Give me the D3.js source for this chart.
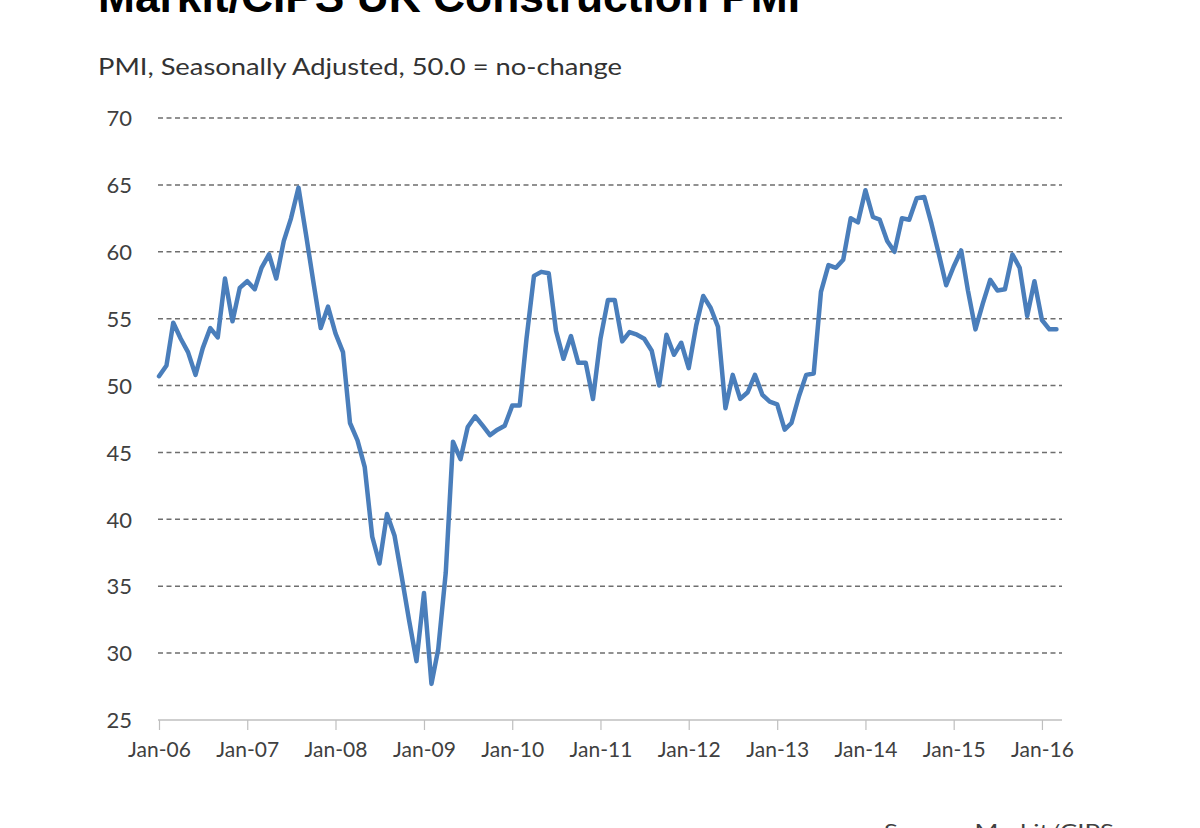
<!DOCTYPE html>
<html>
<head>
<meta charset="utf-8">
<script src="https://cdn.jsdelivr.net/npm/d3@7"></script>
<style>
  html, body { margin: 0; padding: 0; background: #ffffff; }
  svg { display: block; }
</style>
</head>
<body>
<svg id="chart" width="1200" height="828"></svg>
<script>
// ---- Data ----
const titleText = "Markit/CIPS UK Construction PMI";
const subtitleText = "PMI, Seasonally Adjusted, 50.0 = no-change";
const sourceText = "Source: Markit/CIPS.";
const startMonth = "2006-01";

const pmi2006 = [50.7, 51.5, 54.7, 53.5, 52.5, 50.8, 52.8, 54.3, 53.6, 58.0, 54.8, 57.3];
const pmi2007 = [57.8, 57.2, 58.8, 59.8, 58.0, 60.8, 62.5, 64.8, 61.3, 57.8, 54.3, 55.9];
const pmi2008 = [53.9, 52.5, 47.2, 45.9, 43.9, 38.7, 36.7, 40.4, 38.8, 35.7, 32.4, 29.4];
const pmi2009 = [34.5, 27.7, 30.3, 36.0, 45.8, 44.5, 46.9, 47.7, 47.0, 46.3, 46.7, 47.0];
const pmi2010 = [48.5, 48.5, 53.5, 58.2, 58.5, 58.4, 54.1, 52.0, 53.7, 51.7, 51.7, 49.0];
const pmi2011 = [53.5, 56.4, 56.4, 53.3, 54.0, 53.8, 53.5, 52.6, 50.0, 53.8, 52.3, 53.2];
const pmi2012 = [51.3, 54.5, 56.7, 55.8, 54.4, 48.3, 50.8, 49.0, 49.5, 50.8, 49.3, 48.8];
const pmi2013 = [48.6, 46.7, 47.2, 49.2, 50.8, 50.9, 57.0, 59.0, 58.8, 59.4, 62.5, 62.2];
const pmi2014 = [64.6, 62.6, 62.4, 60.8, 60.0, 62.5, 62.4, 64.0, 64.1, 62.1, 59.8, 57.5];
const pmi2015 = [58.9, 60.1, 57.1, 54.2, 56.1, 57.9, 57.1, 57.2, 59.8, 58.8, 55.2, 57.8];
const pmi2016 = [54.9, 54.2, 54.2];

const yTicks = [25, 30, 35, 40, 45, 50, 55, 60, 65, 70];
const xTickLabels = ["Jan-06","Jan-07","Jan-08","Jan-09","Jan-10","Jan-11","Jan-12","Jan-13","Jan-14","Jan-15","Jan-16"];

(function () {
// ---- Build series ----
const values = [].concat(pmi2006, pmi2007, pmi2008, pmi2009, pmi2010, pmi2011,
                         pmi2012, pmi2013, pmi2014, pmi2015, pmi2016);
const parseMonth = d3.timeParse("%Y-%m");
const start = parseMonth(startMonth);
const series = values.map((v, i) => ({ date: d3.timeMonth.offset(start, i), value: v }));
const tickDates = xTickLabels.map((_, i) => d3.timeYear.offset(start, i));

// ---- Layout ----
const svg = d3.select("#chart");
const plotLeft = 159, plotRight = 1062, plotTop = 118, plotBottom = 720;

const x = d3.scaleTime()
  .domain([start, new Date(2016, 2, 24)])
  .range([plotLeft, plotRight]);
const y = d3.scaleLinear().domain([25, 70]).range([plotBottom, plotTop]);

// Title (partly clipped at top, as in reference)
svg.append("text")
  .attr("x", 98).attr("y", 12)
  .attr("font-family", "'Liberation Sans', Arial, sans-serif")
  .attr("font-weight", "bold")
  .attr("font-size", 44)
  .attr("fill", "#000")
  .attr("textLength", 702).attr("lengthAdjust", "spacingAndGlyphs")
  .text(titleText);

// Subtitle
svg.append("text")
  .attr("x", 98).attr("y", 75)
  .attr("font-family", "Lato, 'Open Sans', sans-serif")
  .attr("font-size", 23)
  .attr("fill", "#333")
  .attr("textLength", 524).attr("lengthAdjust", "spacingAndGlyphs")
  .text(subtitleText);

// Gridlines
svg.append("g")
  .selectAll("line")
  .data(yTicks.filter(t => t > 25))
  .join("line")
  .attr("x1", plotLeft - 1).attr("x2", plotRight)
  .attr("y1", d => y(d)).attr("y2", d => y(d))
  .attr("stroke", "#6e6e6e")
  .attr("stroke-width", 1.5)
  .attr("stroke-dasharray", "5,3.5");

// Y axis labels
const yAxis = d3.axisLeft(y).tickValues(yTicks).tickSize(0).tickPadding(0).tickFormat(d3.format("d"));
const gy = svg.append("g").attr("transform", "translate(132,0)").call(yAxis);
gy.select(".domain").remove();
gy.selectAll("text")
  .attr("font-family", "Lato, 'Open Sans', sans-serif")
  .attr("font-size", 22)
  .attr("fill", "#404040")
  .attr("dy", "0.35em");

// X axis
const xAxis = d3.axisBottom(x)
  .tickValues(tickDates)
  .tickSize(10)
  .tickPadding(12)
  .tickFormat((d, i) => xTickLabels[i]);
const gx = svg.append("g").attr("transform", `translate(0,${plotBottom})`).call(xAxis);
gx.select(".domain")
  .attr("stroke", "#bfbfbf").attr("stroke-width", 1.5)
  .attr("d", `M${plotLeft - 1},0H${plotRight}`);
gx.selectAll(".tick line").attr("stroke", "#bfbfbf").attr("stroke-width", 1.2);
gx.selectAll("text")
  .attr("font-family", "Lato, 'Open Sans', sans-serif")
  .attr("font-size", 21)
  .attr("fill", "#404040");

// Line
const line = d3.line().x(d => x(d.date)).y(d => y(d.value));
svg.append("path")
  .datum(series)
  .attr("fill", "none")
  .attr("stroke", "#4a7ebb")
  .attr("stroke-width", 4.5)
  .attr("stroke-linejoin", "round")
  .attr("stroke-linecap", "round")
  .attr("d", line);

// Source (partly clipped at bottom, as in reference)
svg.append("text")
  .attr("x", 884).attr("y", 838)
  .attr("font-family", "Lato, 'Open Sans', sans-serif")
  .attr("font-size", 20)
  .attr("fill", "#404040")
  .attr("textLength", 236).attr("lengthAdjust", "spacingAndGlyphs")
  .text(sourceText);
})();
</script>
</body>
</html>
